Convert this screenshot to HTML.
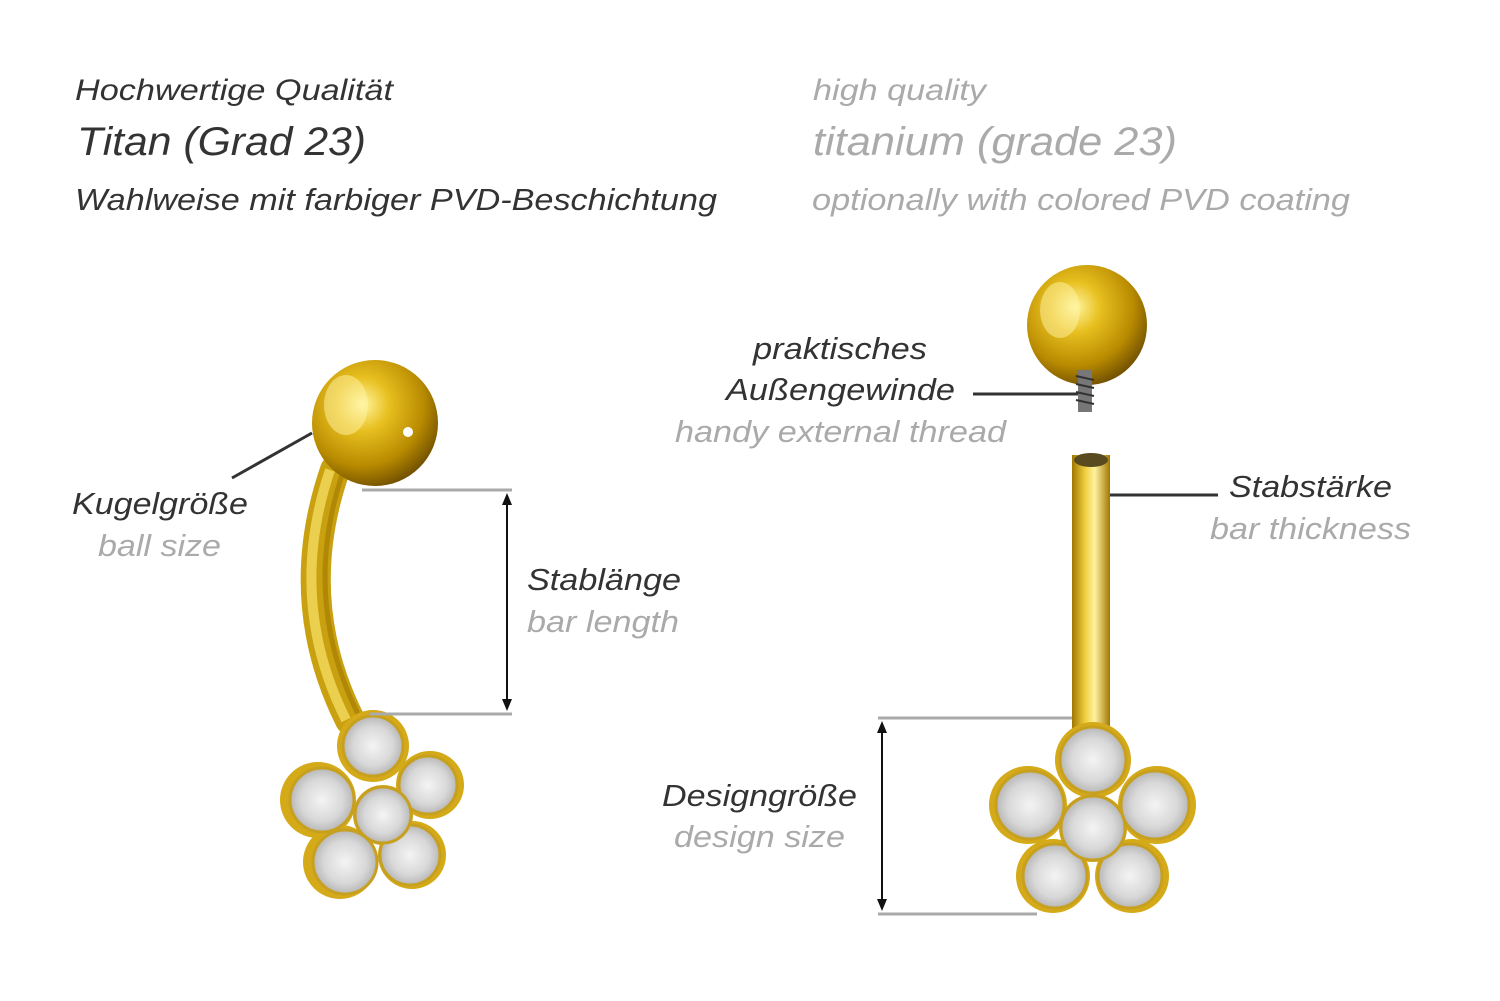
<!DOCTYPE html>
<html><head><meta charset="utf-8"><style>
html,body{margin:0;padding:0;background:#fff;}
svg{display:block}
text{font-family:"Liberation Sans",sans-serif;font-style:italic;}
</style></head><body>
<svg width="1500" height="1001" viewBox="0 0 1500 1001" xmlns="http://www.w3.org/2000/svg">
<defs>
<radialGradient id="ball" cx="0.4" cy="0.35" r="0.7">
<stop offset="0" stop-color="#fff6a0"/><stop offset="0.3" stop-color="#e8c020"/><stop offset="0.7" stop-color="#b88a00"/><stop offset="1" stop-color="#6a4a00"/>
</radialGradient>
<linearGradient id="bar" x1="0" x2="1" y1="0" y2="0">
<stop offset="0" stop-color="#a07800"/><stop offset="0.35" stop-color="#f0d040"/><stop offset="0.6" stop-color="#fff2a0"/><stop offset="1" stop-color="#a07800"/>
</linearGradient>
<radialGradient id="gem" cx="0.5" cy="0.5" r="0.55">
<stop offset="0" stop-color="#f4f4f4"/><stop offset="0.6" stop-color="#d8d8d8"/><stop offset="0.9" stop-color="#b8b8b8"/><stop offset="1" stop-color="#9a8a50"/>
</radialGradient>
</defs>

<text x="75" y="100" font-size="30" fill="#333" textLength="318" lengthAdjust="spacingAndGlyphs">Hochwertige Qualität</text>
<text x="77" y="155" font-size="40" fill="#333" textLength="289" lengthAdjust="spacingAndGlyphs">Titan (Grad 23)</text>
<text x="75" y="210" font-size="31" fill="#333" textLength="642" lengthAdjust="spacingAndGlyphs">Wahlweise mit farbiger PVD-Beschichtung</text>
<text x="813" y="100" font-size="30" fill="#aaa" textLength="173" lengthAdjust="spacingAndGlyphs">high quality</text>
<text x="813" y="155" font-size="40" fill="#aaa" textLength="364" lengthAdjust="spacingAndGlyphs">titanium (grade 23)</text>
<text x="812" y="210" font-size="31" fill="#aaa" textLength="538" lengthAdjust="spacingAndGlyphs">optionally with colored PVD coating</text>

<!-- left piercing -->
<path d="M335 470 Q290 600 350 720" stroke="#c8a010" stroke-width="30" fill="none" stroke-linecap="round"/>
<path d="M330 470 Q286 600 346 720" stroke="#f4dc60" stroke-width="10" fill="none" opacity="0.8"/>
<path d="M343 472 Q300 600 360 718" stroke="#a07800" stroke-width="5" fill="none" opacity="0.6"/>
<circle cx="375" cy="423" r="63" fill="url(#ball)"/>
<ellipse cx="346" cy="405" rx="22" ry="30" fill="#fff4a8" opacity="0.5"/>
<circle cx="408" cy="432" r="5" fill="#fff"/>
<g fill="#d4aa18">
<circle cx="373" cy="746" r="36"/><circle cx="318" cy="800" r="38"/><circle cx="430" cy="785" r="34"/>
<circle cx="340" cy="862" r="37"/><circle cx="412" cy="855" r="34"/><circle cx="383" cy="815" r="30"/>
</g>
<g fill="url(#gem)" stroke="#c8a020" stroke-width="3">
<circle cx="373" cy="746" r="30"/><circle cx="322" cy="800" r="32"/><circle cx="428" cy="785" r="29"/>
<circle cx="345" cy="862" r="32"/><circle cx="410" cy="855" r="30"/><circle cx="383" cy="815" r="28"/>
</g>

<!-- left annotations -->
<line x1="232" y1="478" x2="312" y2="433" stroke="#333" stroke-width="3"/>
<text x="72" y="514" font-size="31" fill="#333" textLength="176" lengthAdjust="spacingAndGlyphs">Kugelgröße</text>
<text x="98" y="556" font-size="31" fill="#aaa" textLength="123" lengthAdjust="spacingAndGlyphs">ball size</text>
<line x1="362" y1="490" x2="512" y2="490" stroke="#aaa" stroke-width="3"/>
<line x1="370" y1="714" x2="512" y2="714" stroke="#aaa" stroke-width="3"/>
<line x1="507" y1="500" x2="507" y2="704" stroke="#111" stroke-width="2"/>
<path d="M507 493 L502 505 L512 505 Z M507 711 L502 699 L512 699 Z" fill="#111"/>
<text x="527" y="590" font-size="31" fill="#333" textLength="154" lengthAdjust="spacingAndGlyphs">Stablänge</text>
<text x="527" y="632" font-size="31" fill="#aaa" textLength="152" lengthAdjust="spacingAndGlyphs">bar length</text>

<!-- right piercing -->
<circle cx="1087" cy="325" r="60" fill="url(#ball)"/>
<ellipse cx="1060" cy="310" rx="20" ry="28" fill="#fff4a8" opacity="0.5"/>
<rect x="1078" y="370" width="14" height="42" fill="#777"/>
<g stroke="#333" stroke-width="2"><line x1="1076" y1="376" x2="1094" y2="380"/><line x1="1076" y1="384" x2="1094" y2="388"/><line x1="1076" y1="392" x2="1094" y2="396"/><line x1="1076" y1="400" x2="1094" y2="404"/></g>
<rect x="1072" y="455" width="38" height="290" fill="url(#bar)"/>
<ellipse cx="1091" cy="460" rx="17" ry="7" fill="#5a4a20"/>
<g fill="#d4aa18">
<circle cx="1093" cy="760" r="38"/><circle cx="1028" cy="805" r="39"/><circle cx="1157" cy="805" r="39"/>
<circle cx="1053" cy="876" r="37"/><circle cx="1132" cy="876" r="37"/><circle cx="1093" cy="828" r="34"/>
</g>
<g fill="url(#gem)" stroke="#c8a020" stroke-width="3">
<circle cx="1093" cy="760" r="33"/><circle cx="1030" cy="805" r="34"/><circle cx="1155" cy="805" r="34"/>
<circle cx="1055" cy="876" r="32"/><circle cx="1130" cy="876" r="32"/><circle cx="1093" cy="828" r="32"/>
</g>

<!-- right annotations -->
<text x="753" y="359" font-size="31" fill="#333" textLength="174" lengthAdjust="spacingAndGlyphs">praktisches</text>
<text x="726" y="400" font-size="31" fill="#333" textLength="229" lengthAdjust="spacingAndGlyphs">Außengewinde</text>
<text x="675" y="442" font-size="31" fill="#aaa" textLength="331" lengthAdjust="spacingAndGlyphs">handy external thread</text>
<line x1="973" y1="394" x2="1078" y2="394" stroke="#333" stroke-width="3"/>
<line x1="1110" y1="495" x2="1218" y2="495" stroke="#333" stroke-width="3"/>
<text x="1229" y="497" font-size="31" fill="#333" textLength="163" lengthAdjust="spacingAndGlyphs">Stabstärke</text>
<text x="1210" y="539" font-size="31" fill="#aaa" textLength="201" lengthAdjust="spacingAndGlyphs">bar thickness</text>
<line x1="878" y1="718" x2="1072" y2="718" stroke="#aaa" stroke-width="3"/>
<line x1="878" y1="914" x2="1037" y2="914" stroke="#aaa" stroke-width="3"/>
<line x1="882" y1="728" x2="882" y2="904" stroke="#111" stroke-width="2"/>
<path d="M882 721 L877 733 L887 733 Z M882 911 L877 899 L887 899 Z" fill="#111"/>
<text x="662" y="806" font-size="31" fill="#333" textLength="195" lengthAdjust="spacingAndGlyphs">Designgröße</text>
<text x="674" y="847" font-size="31" fill="#aaa" textLength="171" lengthAdjust="spacingAndGlyphs">design size</text>
</svg>
</body></html>
